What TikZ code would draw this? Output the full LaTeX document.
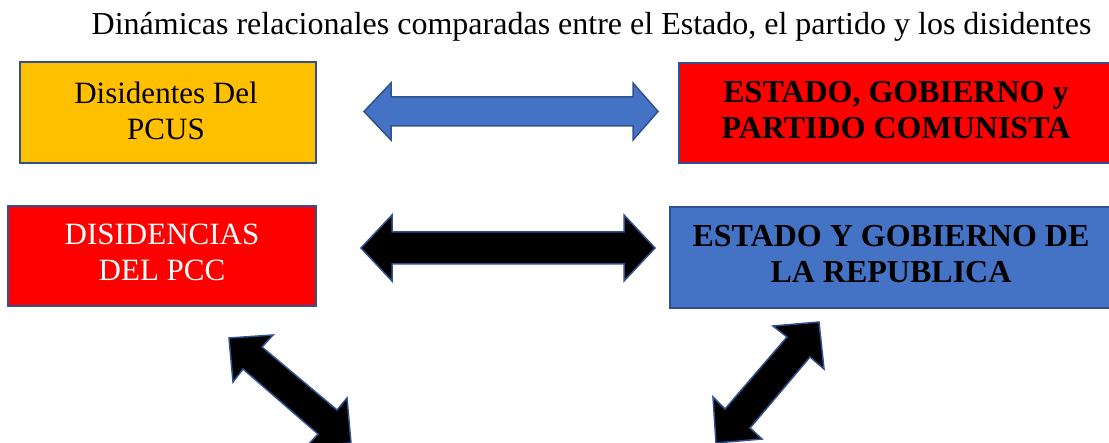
\documentclass[tikz,border=0pt]{standalone}
\usepackage{fontspec}
\setmainfont{Liberation Serif}
\usetikzlibrary{arrows,backgrounds}
\usepgflibrary{shapes}
\definecolor{borde}{HTML}{2F528F}
\definecolor{azul}{HTML}{4472C4}
\definecolor{naranja}{HTML}{FFC000}

\begin{document}
\begin{tikzpicture}[x=1pt,y=-1pt,join=miter,
        caja/.style={draw=borde,line width=1.5pt,inner sep=0pt},
        flecha/.style={draw=borde,line width=1.5pt},
        texto/.style={align=center,inner sep=0pt,font=\fontsize{31}{36}\selectfont},
        negrita/.style={align=center,inner sep=0pt,font=\fontsize{32}{36}\selectfont\bfseries}]
        \useasboundingbox (0,0) rectangle (1109,443);
        \clip (0,0) rectangle (1109,443);
        \node[anchor=base,inner sep=0pt,font=\fontsize{32}{34}\selectfont] (titulo) at (591.5,35)
                {Dinámicas relacionales comparadas entre el Estado, el partido y los disidentes};
        % cajas
        \node[caja,fill=naranja,minimum width=296pt,minimum height=101pt] (pcus) at (168,112.5) {};
        \node[caja,fill=red,minimum width=434pt,minimum height=100pt] (estado) at (896,113) {};
        \node[caja,fill=red,minimum width=308pt,minimum height=100pt] (pcc) at (162,256) {};
        \node[caja,fill=azul,minimum width=442pt,minimum height=101pt] (republica) at (891,257.5) {};
        \node[texto] (pcustxt) at (166,110.5) {Disidentes Del\\PCUS};
        \node[negrita] (estadotxt) at (896,110) {ESTADO, GOBIERNO y\\PARTIDO COMUNISTA};
        \node[texto,text=white] (pcctxt) at (162,252.5) {DISIDENCIAS\\DEL PCC};
        \node[negrita] (republicatxt) at (891,254) {ESTADO Y GOBIERNO DE\\LA REPUBLICA};
        % flechas
        \filldraw[flecha,fill=azul](364,111.5)--(391,83)--(391,97)--(633,97)--(633,83)--(658,111.5)
                --(633,140)--(633,126)--(391,126)--(391,140)--cycle;
        \filldraw[flecha,fill=black](361,248)--(392,215)--(392,232)--(624,232)--(624,215)--(655,248)
                --(624,281)--(624,264)--(392,264)--(392,281)--cycle;
        \filldraw[flecha,fill=black](229,338)--(273,335)--(262,347)--(337,410)--(347,398)--(351,443)
                --(307,446)--(318,434)--(243,369)--(233,382)--cycle;
        \filldraw[flecha,fill=black](819,322)--(773,326)--(787,337)--(725,409)--(713,397)--(716,443)
                --(762,439)--(750,428)--(810,357)--(824,369)--cycle;
\end{tikzpicture}
\end{document}
